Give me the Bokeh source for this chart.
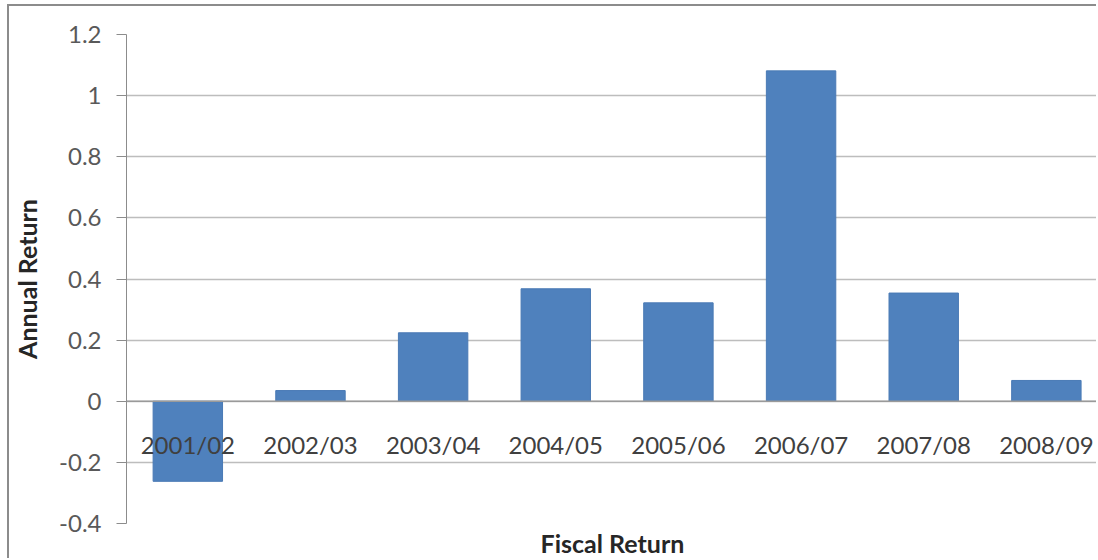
from bokeh.plotting import figure
from bokeh.models import Range1d, FixedTicker, ColumnDataSource, Span
from bokeh.core.properties import value
from bokeh.embed import file_html
from bokeh.resources import INLINE

categories = ["2001/02", "2002/03", "2003/04", "2004/05", "2005/06", "2006/07", "2007/08", "2008/09"]
returns = [-0.262, 0.035, 0.224, 0.368, 0.322, 1.081, 0.354, 0.068]
y_ticks = [-0.4, -0.2, 0, 0.2, 0.4, 0.6, 0.8, 1, 1.2]
y_tick_labels = ["-0.4", "-0.2", "0", "0.2", "0.4", "0.6", "0.8", "1", "1.2"]

xpos = [i + 0.5 for i in range(len(categories))]
src = ColumnDataSource(dict(x=xpos, top=returns, cat=categories, zero=[0] * len(categories)))

p = figure(width=1089, height=554, output_backend="svg", toolbar_location=None,
           x_range=Range1d(0, 7.925), y_range=Range1d(-0.4, 1.2),
           min_border_left=115, min_border_right=0, min_border_top=28, min_border_bottom=37)
p.styles = {"margin-left": "7px", "margin-top": "4px",
            "border-left": "2px solid #8c8c8c", "border-top": "2px solid #8c8c8c"}
p.outline_line_color = None
p.background_fill_color = "white"
p.border_fill_color = "white"

p.vbar(x="x", top="top", bottom=0, width=0.566, source=src,
       fill_color="#4f81bd", line_color="#4a7ab5", line_width=1)

p.add_layout(Span(location=0, dimension="width", line_color="#9a9a9a", line_width=1.5))

p.text(x="x", y="zero", text="cat", source=src, y_offset=43,
       text_align="center", text_baseline="middle",
       text_font=value("Lato"), text_font_size="24px", text_color="#404040")

p.xgrid.visible = False
p.ygrid.grid_line_color = "#bdbdbd"
p.ygrid.grid_line_width = 1.5
p.ygrid.ticker = FixedTicker(ticks=y_ticks)

p.yaxis.ticker = FixedTicker(ticks=y_ticks)
p.yaxis.major_label_overrides = {float(t): l for t, l in zip(y_ticks, y_tick_labels)}
p.yaxis.axis_line_color = "#8c8c8c"
p.yaxis.major_tick_line_color = "#8c8c8c"
p.yaxis.major_tick_out = 10
p.yaxis.major_tick_in = 0
p.yaxis.minor_tick_line_color = None
p.yaxis.major_label_standoff = 15
p.yaxis.major_label_text_font = "Lato"
p.yaxis.major_label_text_font_size = "24px"
p.yaxis.major_label_text_color = "#595959"
p.yaxis.axis_label = "Annual Return"
p.yaxis.axis_label_text_font = "Lato"
p.yaxis.axis_label_text_font_style = "bold"
p.yaxis.axis_label_text_font_size = "25px"
p.yaxis.axis_label_text_color = "#262626"
p.yaxis.axis_label_standoff = 14

p.xaxis.ticker = FixedTicker(ticks=[])
p.xaxis.axis_line_color = None
p.xaxis.major_tick_line_color = None
p.xaxis.minor_tick_line_color = None
p.xaxis.major_tick_out = 0
p.xaxis.major_label_standoff = 0
p.xaxis.axis_label = "Fiscal Return"
p.xaxis.axis_label_text_font = "Lato"
p.xaxis.axis_label_text_font_style = "bold"
p.xaxis.axis_label_text_font_size = "25px"
p.xaxis.axis_label_text_color = "#262626"
p.xaxis.axis_label_standoff = 4

open("out.html", "w").write(file_html(p, INLINE))
